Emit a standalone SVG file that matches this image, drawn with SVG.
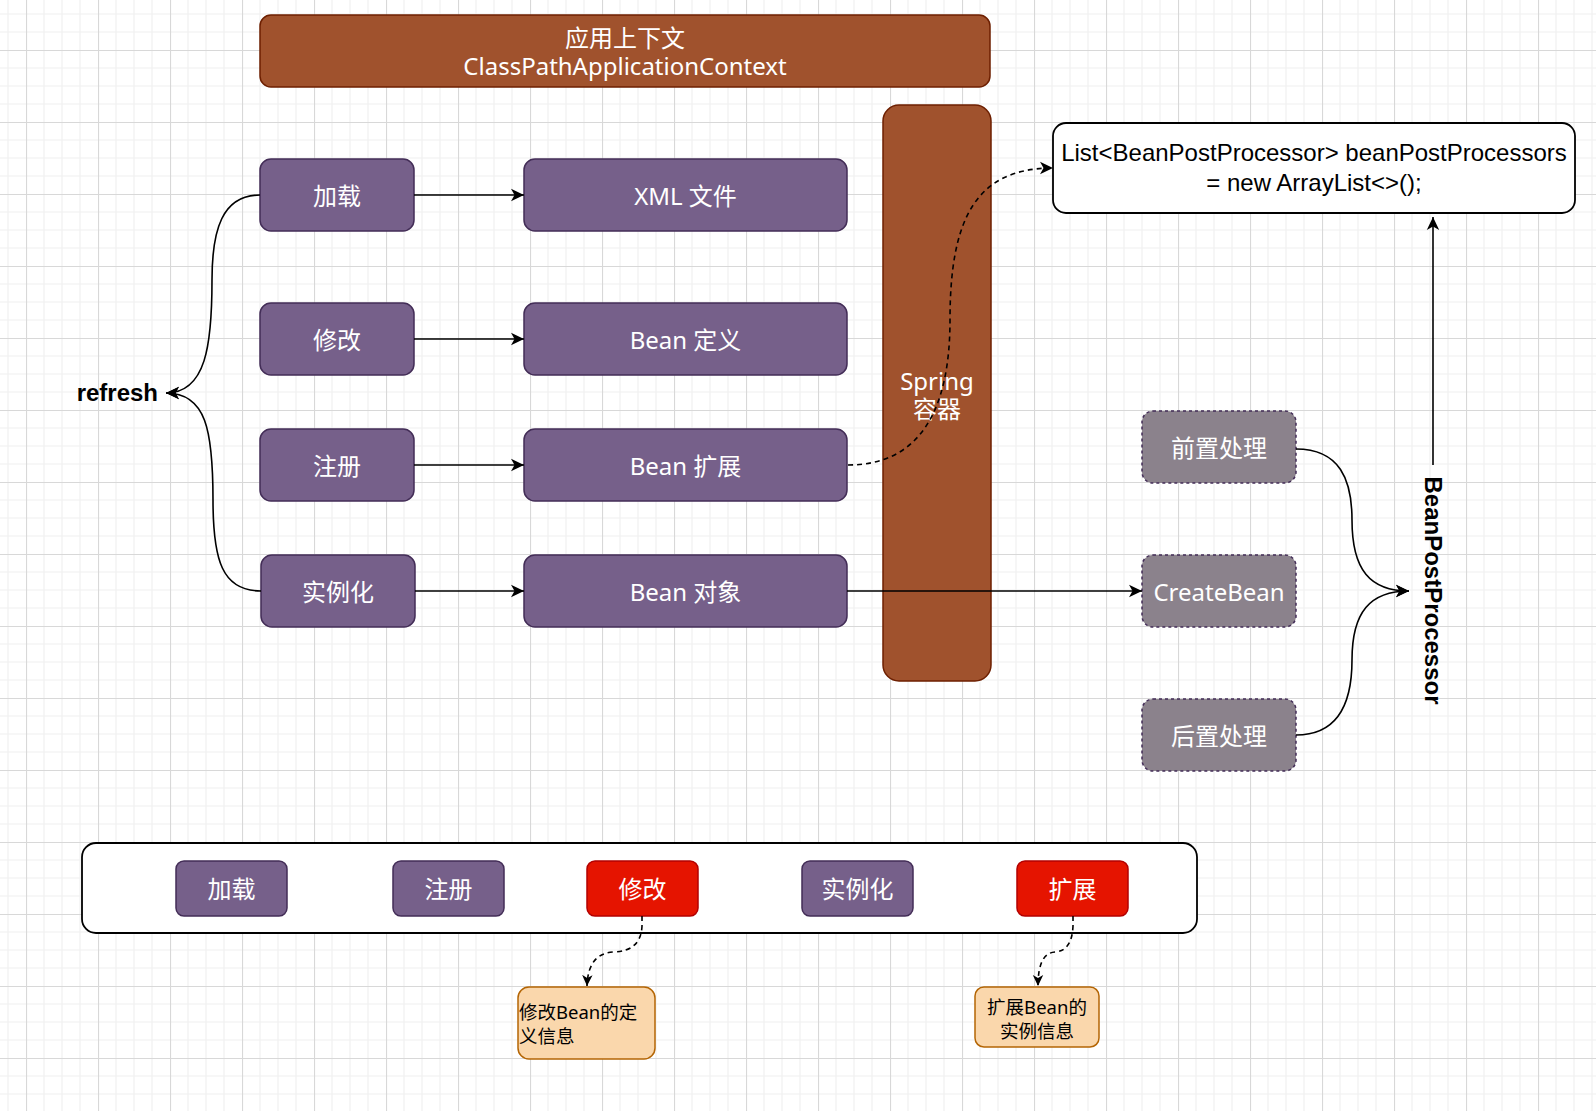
<svg xmlns="http://www.w3.org/2000/svg" width="1596" height="1111" viewBox="0 0 1596 1111">
<defs>
<pattern id="grid" patternUnits="userSpaceOnUse" x="26" y="50" width="72" height="72">
<path d="M18,0 V72 M36,0 V72 M54,0 V72 M0,18 H72 M0,36 H72 M0,54 H72" stroke="#f0f0f0" stroke-width="1.2" fill="none"/>
<path d="M0.5,0 V72 M0,0.5 H72" stroke="#d8d8d8" stroke-width="1.2" fill="none"/>
</pattern>
<marker id="arr" markerUnits="userSpaceOnUse" markerWidth="14" markerHeight="14" viewBox="0 0 14 14" refX="13" refY="7" orient="auto">
<path d="M0,0.8 L13,7 L0,13.2 L3.5,7 Z" fill="#000"/>
</marker>
<marker id="arrs" markerUnits="userSpaceOnUse" markerWidth="12" markerHeight="12" viewBox="0 0 12 12" refX="11" refY="6" orient="auto">
<path d="M0,0.8 L11,6 L0,11.2 L3,6 Z" fill="#000"/>
</marker>
</defs>
<style>
.purple{fill:#76608a;stroke:#432d57;stroke-width:1.5}
.brown{fill:#a0522d;stroke:#6d1f00;stroke-width:1.5}
.red{fill:#e51400;stroke:#b20000;stroke-width:1.5}
.orange{fill:#fad7ac;stroke:#b46504;stroke-width:1.5}
.grey{fill:#8b828c;stroke:#432d57;stroke-width:1.5;stroke-dasharray:3 3}
.white{fill:#fff;stroke:#000;stroke-width:1.8}
.lbl{font-family:"Noto Sans","Noto Sans CJK SC",sans-serif;font-size:24px;fill:#fff;text-anchor:middle;dominant-baseline:central}
.note{font-family:"Noto Sans","Noto Sans CJK SC",sans-serif;font-size:18.5px;fill:#000;dominant-baseline:central}
.code{font-family:"Liberation Sans",Arial,sans-serif;font-size:24px;fill:#000;text-anchor:middle;dominant-baseline:central}
.bold{font-family:"Liberation Sans",Arial,sans-serif;font-size:24px;font-weight:bold;fill:#000;dominant-baseline:central}
.edge{fill:none;stroke:#000;stroke-width:1.6}
.dash{stroke-dasharray:5 4}
</style>
<rect width="1596" height="1111" fill="#fff"/>
<rect width="1596" height="1111" fill="url(#grid)"/>

<g id="title">
<rect class="brown" x="260" y="15" width="730" height="72" rx="11"/>
<text class="lbl" x="625" y="37">应用上下文</text>
<text class="lbl" x="625" y="65">ClassPathApplicationContext</text>
</g>
<g id="spring">
<rect class="brown" x="883" y="105" width="108" height="576" rx="16"/>
<text class="lbl" x="937" y="380">Spring</text>
<text class="lbl" x="937" y="408">容器</text>
</g>
<g id="load">
<rect class="purple" x="260" y="159" width="154" height="72" rx="11"/>
<text class="lbl" x="337" y="195">加载</text>
</g>
<g id="xml">
<rect class="purple" x="524" y="159" width="323" height="72" rx="11"/>
<text class="lbl" x="685.5" y="195">XML 文件</text>
</g>
<g id="modify">
<rect class="purple" x="260" y="303" width="154" height="72" rx="11"/>
<text class="lbl" x="337" y="339">修改</text>
</g>
<g id="beandef">
<rect class="purple" x="524" y="303" width="323" height="72" rx="11"/>
<text class="lbl" x="685.5" y="339">Bean 定义</text>
</g>
<g id="register">
<rect class="purple" x="260" y="429" width="154" height="72" rx="11"/>
<text class="lbl" x="337" y="465">注册</text>
</g>
<g id="beanext">
<rect class="purple" x="524" y="429" width="323" height="72" rx="11"/>
<text class="lbl" x="685.5" y="465">Bean 扩展</text>
</g>
<g id="instantiate">
<rect class="purple" x="261" y="555" width="154" height="72" rx="11"/>
<text class="lbl" x="338" y="591">实例化</text>
</g>
<g id="beanobj">
<rect class="purple" x="524" y="555" width="323" height="72" rx="11"/>
<text class="lbl" x="685.5" y="591">Bean 对象</text>
</g>
<g id="refresh">
<text class="bold" x="158" y="392" text-anchor="end">refresh</text>
</g>
<g id="list">
<rect class="white" x="1053" y="123" width="522" height="90" rx="13"/>
<text class="code" x="1314" y="152">List&lt;BeanPostProcessor&gt; beanPostProcessors</text>
<text class="code" x="1314" y="182">= new ArrayList&lt;&gt;();</text>
</g>
<g id="pre">
<rect class="grey" x="1142" y="411" width="154" height="72" rx="11"/>
<text class="lbl" x="1219" y="447">前置处理</text>
</g>
<g id="create">
<rect class="grey" x="1142" y="555" width="154" height="72" rx="11"/>
<text class="lbl" x="1219" y="591">CreateBean</text>
</g>
<g id="post">
<rect class="grey" x="1142" y="699" width="154" height="72" rx="11"/>
<text class="lbl" x="1219" y="735">后置处理</text>
</g>
<g id="bpp">
<text class="bold" x="0" y="0" text-anchor="middle" transform="translate(1433 590.5) rotate(90)">BeanPostProcessor</text>
</g>
<g id="panel">
<rect class="white" x="82" y="843" width="1115" height="90" rx="14"/>
</g>
<g id="p-load">
<rect class="purple" x="176" y="861" width="111" height="55" rx="8"/>
<text class="lbl" x="231.5" y="888.5">加载</text>
</g>
<g id="p-register">
<rect class="purple" x="393" y="861" width="111" height="55" rx="8"/>
<text class="lbl" x="448.5" y="888.5">注册</text>
</g>
<g id="p-modify">
<rect class="red" x="587" y="861" width="111" height="55" rx="8"/>
<text class="lbl" x="642.5" y="888.5">修改</text>
</g>
<g id="p-instantiate">
<rect class="purple" x="802" y="861" width="111" height="55" rx="8"/>
<text class="lbl" x="857.5" y="888.5">实例化</text>
</g>
<g id="p-extend">
<rect class="red" x="1017" y="861" width="111" height="55" rx="8"/>
<text class="lbl" x="1072.5" y="888.5">扩展</text>
</g>
<g id="note-modify">
<rect class="orange" x="518" y="987" width="137" height="72" rx="11"/>
<text class="note" x="519" y="1011">修改Bean的定</text>
<text class="note" x="519" y="1035">义信息</text>
</g>
<g id="note-extend">
<rect class="orange" x="975" y="987" width="124" height="60" rx="9"/>
<text class="note" x="1037" y="1006" text-anchor="middle">扩展Bean的</text>
<text class="note" x="1037" y="1030" text-anchor="middle">实例信息</text>
</g>

<g id="connectors">
<path class="edge" d="M260,195 C222,195 212,230 212,280 C212,345 206,393 166,393" marker-end="url(#arr)"/>
<path class="edge" d="M261,591 C222,591 213,560 213,500 C213,430 206,393 166,393" marker-end="url(#arr)"/>
<path class="edge" d="M414,195 L524,195" marker-end="url(#arr)"/>
<path class="edge" d="M414,339 L524,339" marker-end="url(#arr)"/>
<path class="edge" d="M414,465 L524,465" marker-end="url(#arr)"/>
<path class="edge" d="M415,591 L524,591" marker-end="url(#arr)"/>
<path class="edge" d="M847,591 L1142,591" marker-end="url(#arr)"/>
<path class="edge dash" d="M848,465 C920,465 950,410 950,320 C950,220 975,168 1053,168" marker-end="url(#arr)"/>
<path class="edge" d="M1296,449 C1340,449 1352,480 1352,520 C1352,570 1370,591 1409,591" marker-end="url(#arr)"/>
<path class="edge" d="M1296,735 C1340,735 1352,700 1352,660 C1352,612 1370,591 1409,591" marker-end="url(#arr)"/>
<path class="edge" d="M1433,465 L1433,217" marker-end="url(#arr)"/>
<path class="edge dash" d="M642,916 L642,926 Q641,951 614,952 Q588,953 587,986" marker-end="url(#arrs)"/>
<path class="edge dash" d="M1073,916 L1073,926 Q1072,951 1055,952 Q1038,953 1038,986" marker-end="url(#arrs)"/>
</g>
</svg>
